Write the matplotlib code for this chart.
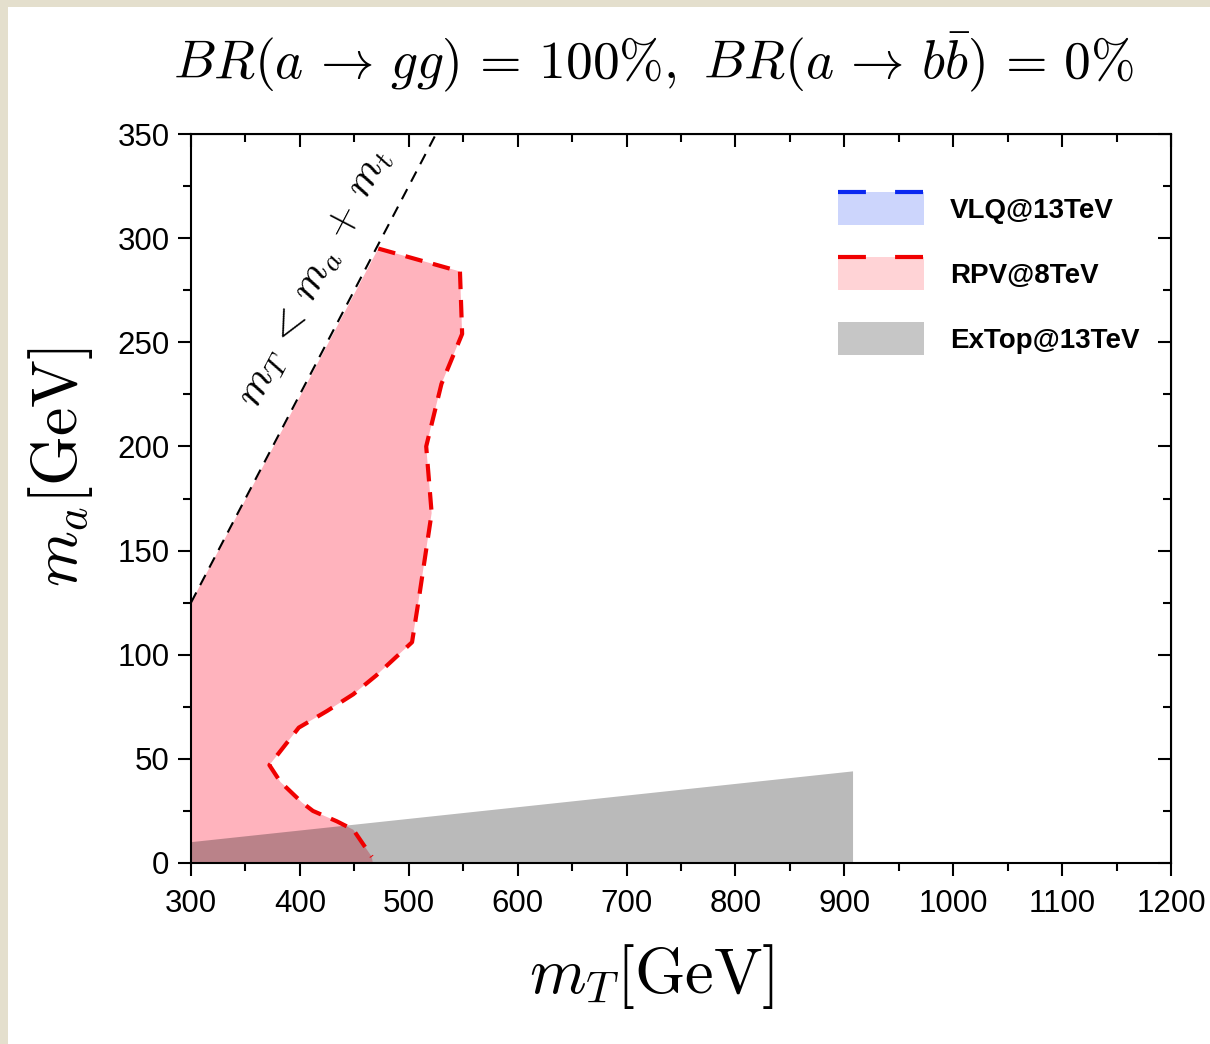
import numpy as np
import matplotlib
matplotlib.use("Agg")
import matplotlib.pyplot as plt
from matplotlib.patches import Rectangle, Patch
from matplotlib.lines import Line2D
from matplotlib.legend_handler import HandlerBase

plt.rcParams['mathtext.fontset'] = 'cm'
plt.rcParams['font.family'] = ['Liberation Sans', 'DejaVu Sans']

# RPV@8TeV excluded region boundary (m_T, m_a) in GeV
rpv_mT = [300, 300, 472, 547, 549, 530, 516, 521, 509, 503, 470, 449, 425,
          399, 372, 382, 402, 412, 434, 449, 466, 467]
rpv_ma = [0, 125, 295, 284, 254, 230, 200, 168, 126, 106, 90, 81, 73,
          65, 47, 39, 29, 25, 20, 16, 3, 0]
# red dashed edge (from the kinematic line down to the axis)
rpv_edge = slice(2, 21)

# ExTop@13TeV excluded region
extop_mT = [300, 908, 908, 300]
extop_ma = [0, 0, 44, 10]

# kinematic limit m_T = m_a + m_t
m_top = 175
kin_mT = np.array([300, 560])

x_ticks = [300, 400, 500, 600, 700, 800, 900, 1000, 1100, 1200]
y_ticks = [0, 50, 100, 150, 200, 250, 300, 350]

fig = plt.figure(figsize=(12.10, 10.44), dpi=100)
fig.patch.set_facecolor('#e4dfcd')
fig.patches.append(Rectangle((8 / 1210, 0), 1, 1 - 7 / 1044, transform=fig.transFigure,
                             facecolor='white', edgecolor='none', zorder=-1))

ax = fig.add_axes([191 / 1210, 1 - 863 / 1044, 980 / 1210, 729 / 1044])

ax.fill(rpv_mT, rpv_ma, color='#ffb3bd', lw=0, zorder=1)
ax.plot(rpv_mT[rpv_edge], rpv_ma[rpv_edge], color='#f00000', lw=3,
        dashes=(4.2, 2.6), zorder=3)
ax.fill(extop_mT, extop_ma, color='black', alpha=0.27, lw=0, zorder=2)
ax.plot(kin_mT, kin_mT - m_top, color='black', lw=1.5, dashes=(5.5, 4), zorder=4)

ax.text(414, 281, r'$m_T \,<\, m_a \,+\, m_t$', fontsize=31, rotation=62.4,
        ha='center', va='center', rotation_mode='anchor')

ax.set_xlim(300, 1200)
ax.set_ylim(0, 350)
ax.set_xticks(x_ticks)
ax.set_yticks(y_ticks)
ax.set_xticks(np.arange(350, 1200, 100), minor=True)
ax.set_yticks(np.arange(25, 350, 50), minor=True)
ax.tick_params(which='major', direction='out', length=9.5, width=1.5, labelsize=22.5)
ax.tick_params(axis='x', which='major', pad=9)
ax.tick_params(axis='y', which='major', pad=6)
ax.tick_params(which='minor', direction='out', length=5.5, width=1.5)
for s in ax.spines.values():
    s.set_linewidth(1.5)

# inward ticks on top and right
top = ax.secondary_xaxis('top')
top.set_xticks(x_ticks)
top.set_xticks(np.arange(350, 1200, 100), minor=True)
top.tick_params(which='major', direction='in', length=9.5, width=1.5, labeltop=False)
top.tick_params(which='minor', direction='in', length=5.5, width=1.5)
right = ax.secondary_yaxis('right')
right.set_yticks(y_ticks)
right.set_yticks(np.arange(25, 350, 50), minor=True)
right.tick_params(which='major', direction='in', length=9.5, width=1.5, labelright=False)
right.tick_params(which='minor', direction='in', length=5.5, width=1.5)

ax.set_xlabel(r'$m_T[\mathrm{GeV}]$', fontsize=46.5)
ax.xaxis.set_label_coords(0.470, -0.108)
ax.set_ylabel(r'$m_a[\mathrm{GeV}]$', fontsize=46)
ax.yaxis.set_label_coords(-0.098, 0.543)
fig.text(0.54, 1 - 62 / 1044,
         r'$BR(a\,\rightarrow\, gg)\,=\,100\%,\ BR(a\,\rightarrow\, b\bar{b})\,=\,0\%$',
         fontsize=38.5, ha='center', va='center')


class TopDashHandler(HandlerBase):
    def __init__(self, line_color=None):
        super().__init__()
        self.line_color = line_color

    def create_artists(self, legend, orig_handle, xdescent, ydescent, width, height,
                       fontsize, trans):
        rect = Rectangle((-xdescent, -ydescent), width, height,
                         facecolor=orig_handle.get_facecolor(), edgecolor='none',
                         transform=trans)
        artists = [rect]
        if self.line_color is not None:
            ln = Line2D([-xdescent, -xdescent + width], [-ydescent + height] * 2,
                        color=self.line_color, lw=3, dashes=(6.7, 7), transform=trans)
            artists.append(ln)
        return artists


h_vlq = Patch(facecolor='#ccd5fc')
h_rpv = Patch(facecolor='#ffd3d6')
h_ext = Patch(facecolor='#c6c6c6')
ax.legend([h_vlq, h_rpv, h_ext], ['VLQ@13TeV', 'RPV@8TeV', 'ExTop@13TeV'],
          handler_map={h_vlq: TopDashHandler('#0a28f0'),
                       h_rpv: TopDashHandler('#f00000'),
                       h_ext: TopDashHandler(None)},
          loc='upper left', bbox_to_anchor=(0.660, 0.9204), frameon=False,
          borderpad=0, borderaxespad=0, handlelength=3.1, handleheight=1.45,
          labelspacing=1.15, handletextpad=0.95,
          prop={'weight': 'bold', 'size': 20})

fig.savefig('out.png', dpi=100, facecolor=fig.get_facecolor())
